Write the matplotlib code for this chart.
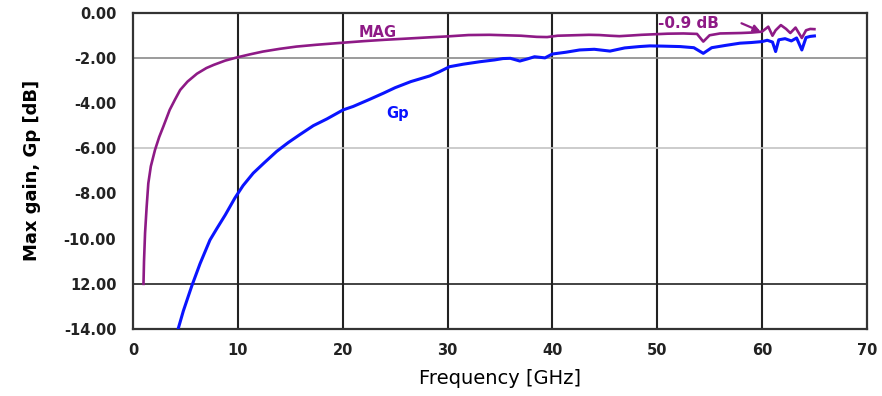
import numpy as np
import matplotlib
matplotlib.use("Agg")
import matplotlib.pyplot as plt

# MAG curve
mag_f = [1.0, 1.05, 1.15, 1.3, 1.46, 1.7, 2.1, 2.5, 2.9, 3.5, 4.0, 4.5, 5.2, 6.1, 7.0, 7.7,
         8.8, 10.0, 11.2, 12.4, 14.0, 15.6, 17.5, 20.0, 22.0, 24.0, 26.0, 28.3, 30.0, 32.0,
         34.0, 35.5, 37.0, 38.5, 39.5, 40.5, 42.0, 43.5, 44.5, 45.5, 46.4, 47.5, 48.5, 49.5,
         51.0, 52.5, 53.8, 54.4, 55.0, 56.0, 57.0, 58.0, 59.0, 60.0, 60.6, 61.0, 61.3, 61.8,
         62.3, 62.7, 63.2, 63.8, 64.2, 64.6, 65.0]
mag_g = [-12.0, -11.0, -9.75, -8.6, -7.55, -6.8, -6.07, -5.5, -5.03, -4.3, -3.85, -3.42, -3.05,
         -2.7, -2.45, -2.31, -2.12, -1.97, -1.84, -1.72, -1.60, -1.50, -1.42, -1.33, -1.26, -1.2,
         -1.15, -1.09, -1.05, -0.99, -0.98, -1.0, -1.02, -1.07, -1.08, -1.02, -1.0, -0.98, -0.99,
         -1.02, -1.04, -1.01, -0.98, -0.96, -0.93, -0.92, -0.94, -1.28, -1.0, -0.92, -0.91, -0.9,
         -0.88, -0.84, -0.62, -1.02, -0.78, -0.55, -0.72, -0.9, -0.66, -1.12, -0.78, -0.72, -0.73]

# Gp curve
gp_f = [4.3, 4.8, 5.6, 6.4, 7.34, 8.0, 8.8, 9.72, 10.5, 11.47, 12.5, 13.7, 14.8, 15.9, 17.2,
        18.5, 20.05, 21.0, 22.5, 23.9, 25.0, 26.5, 28.3, 29.2, 30.2, 31.5, 33.1, 34.5, 35.3,
        36.0, 36.9, 37.6, 38.3, 39.3, 40.0, 41.3, 42.6, 44.0, 45.5, 46.9, 48.3, 49.3, 50.5,
        52.2, 53.5, 54.4, 55.2, 56.5, 57.9, 59.0, 60.0, 60.5, 61.0, 61.3, 61.6, 62.2, 62.8,
        63.3, 63.8, 64.2, 64.6, 65.0]
gp_g = [-14.0, -13.2, -12.1, -11.1, -10.06, -9.55, -8.95, -8.2, -7.65, -7.1, -6.65, -6.14,
        -5.75, -5.40, -5.0, -4.7, -4.3, -4.15, -3.85, -3.56, -3.32, -3.05, -2.80, -2.62, -2.39,
        -2.28, -2.17, -2.09, -2.03, -2.02, -2.14, -2.05, -1.95, -2.0, -1.83, -1.75, -1.65,
        -1.62, -1.70, -1.56, -1.50, -1.47, -1.48, -1.50, -1.55, -1.80, -1.55, -1.45, -1.35,
        -1.32, -1.28, -1.22, -1.3, -1.72, -1.2, -1.15, -1.25, -1.12, -1.65, -1.1, -1.05, -1.03]

xticks = [0, 10, 20, 30, 40, 50, 60, 70]
yticks = [0, -2, -4, -6, -8, -10, -12, -14]
ylabels = ["0.00", "-2.00", "-4.00", "-6.00", "-8.00", "-10.00", "12.00", "-14.00"]
hgrid = [-2, -6, -12]
hgrid_col = ["#8a8a8a", "#c4c4c4", "#222222"]

purple = "#8e1a86"
blue = "#0a14ff"

fig = plt.figure(figsize=(8.82, 3.96), dpi=100)
ax = fig.add_axes([0.1508, 0.169, 0.832, 0.799])

for x in xticks[1:-1]:
    ax.axvline(x, color="#222222", lw=1.5, zorder=1)
for y, c in zip(hgrid, hgrid_col):
    ax.axhline(y, color=c, lw=1.2, zorder=1)

ax.plot(mag_f, mag_g, color=purple, lw=1.9, zorder=3)
ax.plot(gp_f, gp_g, color=blue, lw=2.2, zorder=3)

ax.text(23.3, -0.87, "MAG", color=purple, fontsize=10.5, fontweight="bold", ha="center", va="center")
ax.text(25.2, -4.44, "Gp", color=blue, fontsize=10.5, fontweight="bold", ha="center", va="center")
ax.text(50.1, -0.46, "-0.9 dB", color=purple, fontsize=11, fontweight="bold", ha="left", va="center")
ax.annotate("", xy=(60.1, -0.88), xytext=(57.8, -0.42),
            arrowprops=dict(arrowstyle="-|>", color=purple, lw=1.6, mutation_scale=10))

ax.set_xlim(0, 70)
ax.set_ylim(-14, 0)
ax.set_xticks(xticks)
ax.set_yticks(yticks)
ax.set_yticklabels(ylabels)
ax.tick_params(length=0, labelsize=10.5, pad=10)
ax.tick_params(axis="y", pad=12)
for lab in ax.get_xticklabels() + ax.get_yticklabels():
    lab.set_fontweight("bold")
    lab.set_color("#222222")

for s in ax.spines.values():
    s.set_color("#333333")
    s.set_linewidth(1.6)

ax.set_xlabel("Frequency [GHz]", fontsize=14, labelpad=8)
ax.set_ylabel("Max gain, Gp [dB]", fontsize=13, fontweight="bold", labelpad=16)

fig.savefig("out.png", dpi=100)
